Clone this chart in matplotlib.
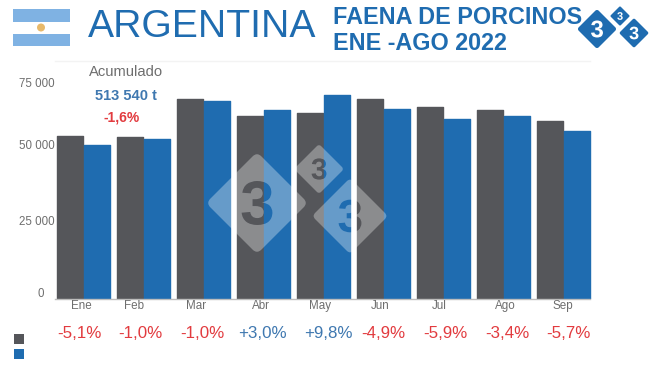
import numpy as np
import matplotlib
matplotlib.use("Agg")
import matplotlib.pyplot as plt
from matplotlib.patches import PathPatch, Rectangle, Circle
from matplotlib.path import Path
from matplotlib.textpath import TextPath
from matplotlib.font_manager import FontProperties
from matplotlib.transforms import Affine2D

plt.rcParams['font.family'] = ['Liberation Sans', 'DejaVu Sans']

# ---------- DATA ----------
MONTHS = ["Ene", "Feb", "Mar", "Abr", "May", "Jun", "Jul", "Ago", "Sep"]
VALUES_2021 = [54000, 53600, 66200, 60600, 61600, 66200, 63600, 62600, 58900]
VALUES_2022 = [51000, 53000, 65600, 62600, 67500, 62900, 59600, 60600, 55600]
CHANGES = ["-5,1%", "-1,0%", "-1,0%", "+3,0%", "+9,8%", "-4,9%", "-5,9%", "-3,4%", "-5,7%"]
Y_LABELS = ["75 000", "50 000", "25 000", "0"]

# ---------- SETTINGS ----------
W, H = 650, 366
GREY = "#55565a"
BLUE = "#1f6cb0"
TEXT_GREY = "#6e6e6e"
RED = "#e23b3f"
SOFT_BLUE = "#3f78b0"
PX_PER_UNIT = 3.02 / 1000
AXIS_Y = 299
AXIS_TOP = 60

# pixel positions
month_x = [81, 134, 196, 261, 320, 380, 439, 505, 563]
change_x = [79, 140, 202, 262, 328, 383, 445, 507, 568]
y_label_x = [55, 55, 55, 44]
y_label_y = [84, 146, 222, 294]


def diamond_path(cx, cy, half, glyph_size):
    # rounded diamond with a "3" cut out of it
    r = half * 0.12
    pts = np.array([[cx, cy - half], [cx - half, cy], [cx, cy + half], [cx + half, cy]])
    verts, codes = [], []
    for i in range(4):
        p = pts[i]
        prev_p = pts[i - 1]
        next_p = pts[(i + 1) % 4]
        a = p + (prev_p - p) / np.linalg.norm(prev_p - p) * r
        b = p + (next_p - p) / np.linalg.norm(next_p - p) * r
        verts += [a, p, b]
        codes += [Path.LINETO if i else Path.MOVETO, Path.CURVE3, Path.CURVE3]
    verts.append(verts[0])
    codes.append(Path.CLOSEPOLY)
    outer = Path(np.array(verts), codes)

    fp = FontProperties(family="Liberation Sans", weight="bold")
    tp = TextPath((0, 0), "3", size=glyph_size, prop=fp)
    box = tp.get_extents()
    move = Affine2D().translate(-box.x0 - box.width / 2, -box.y0 - box.height / 2).scale(1, -1).translate(cx, cy)
    glyph = tp.transformed(move)
    return Path.make_compound_path(outer, glyph)


# ---------- FIGURE ----------
fig = plt.figure(figsize=(W / 100, H / 100), dpi=100, facecolor="white")

# bars, placed so that one pixel matches the reference
ax = fig.add_axes([0, 1 - AXIS_Y / H, 1, (AXIS_Y - AXIS_TOP) / H])
ax.set_xlim(0, W)
ax.set_ylim(0, (AXIS_Y - AXIS_TOP) / PX_PER_UNIT)
ax.axis("off")

group_x = 83.5 + 60 * np.arange(len(MONTHS))
for i, (a, b) in enumerate(zip(VALUES_2021, VALUES_2022)):
    ax.bar(group_x[i] - 13.5, a, width=25.5, color=GREY, edgecolor=GREY, linewidth=1, joinstyle="round")
    ax.bar(group_x[i] + 13.5, b, width=25.5, color=BLUE, edgecolor=BLUE, linewidth=1, joinstyle="round")

# overlay in pixel coordinates for header, labels and watermark
ov = fig.add_axes([0, 0, 1, 1], facecolor="none")
ov.set_xlim(0, W)
ov.set_ylim(H, 0)
ov.axis("off")

ov.plot([55, 590], [AXIS_Y, AXIS_Y], color="#bdbdbd", lw=1)
ov.plot([55, 590], [60.5, 60.5], color="#f3f3f3", lw=1)

# flag
ov.add_patch(Rectangle((13, 9), 57, 12.5, color="#7fb2e3", lw=0))
ov.add_patch(Rectangle((13, 34), 57, 12, color="#7fb2e3", lw=0))
ov.add_patch(Circle((41, 27.5), 4, color="#e8b96a", lw=0))

# header
ov.text(88, 27, "ARGENTINA", color=BLUE, fontsize=28.2, va="center", ha="left")
ov.text(333, 17.5, "FAENA DE PORCINOS", color=BLUE, fontsize=16.8, fontweight="bold", va="center", ha="left")
ov.text(333, 44, "ENE -AGO 2022", color=BLUE, fontsize=16.8, fontweight="bold", va="center", ha="left")

# top right logo
for cx, cy, half, size in [(597, 29, 20, 24), (620, 16, 10, 11), (634, 33, 15, 18)]:
    ov.add_patch(PathPatch(diamond_path(cx, cy, half, size), facecolor=BLUE, lw=0))

# accumulated box
ov.text(126, 72, "Acumulado", color=TEXT_GREY, fontsize=10.6, ha="center", va="center")
ov.text(126, 96, "513 540 t", color=SOFT_BLUE, fontsize=10.5, fontweight="bold", ha="center", va="center")
ov.text(122, 118, "-1,6%", color=RED, fontsize=10, fontweight="bold", ha="center", va="center")

# y labels
for lab, x, y in zip(Y_LABELS, y_label_x, y_label_y):
    ov.text(x, y, lab, color=TEXT_GREY, fontsize=8.3, ha="right", va="center")

# months and changes
for m, x in zip(MONTHS, month_x):
    ov.text(x, 306, m, color=TEXT_GREY, fontsize=8.4, ha="center", va="center")
for c, x in zip(CHANGES, change_x):
    col = SOFT_BLUE if c.startswith("+") else RED
    ov.text(x, 334, c, color=col, fontsize=12.2, ha="center", va="center")

# legend swatches
ov.add_patch(Rectangle((14, 334), 9.5, 9.5, color=GREY, lw=0))
ov.add_patch(Rectangle((14, 349), 9.5, 9.5, color=BLUE, lw=0))

# watermark
for cx, cy, half, size in [(257, 203, 51, 62), (319, 169, 25, 30), (350, 216, 38, 46)]:
    ov.add_patch(PathPatch(diamond_path(cx, cy, half, size), facecolor="white", alpha=0.32, lw=0))

fig.savefig("out.png", dpi=100)
